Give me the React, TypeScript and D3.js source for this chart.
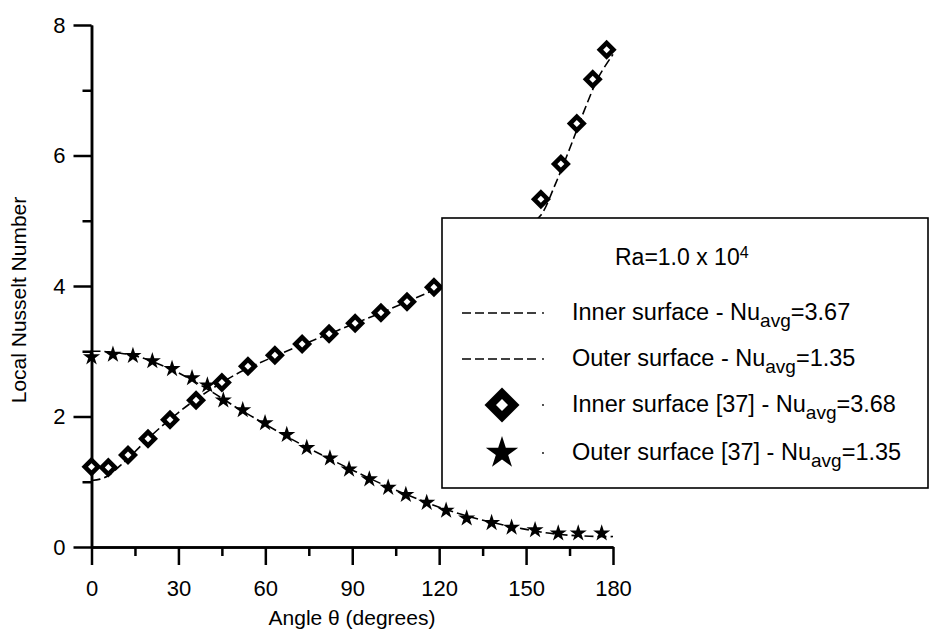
import React, { useEffect, useRef } from "react";
import * as d3 from "d3";

// numerical solution (dashed curves)
const lineTheta = [0, 3, 6, 10, 15, 20, 25, 30, 35, 40, 45, 50, 55, 60, 70, 80, 90, 100, 110, 120, 130, 140, 145, 150, 155, 160, 165, 170, 175, 180];
const innerLine = [1.02, 1.04, 1.1, 1.25, 1.46, 1.68, 1.88, 2.06, 2.23, 2.38, 2.52, 2.65, 2.76, 2.86, 3.05, 3.23, 3.41, 3.59, 3.78, 3.98, 4.21, 4.5, 4.68, 4.9, 5.08, 5.55, 6.1, 6.68, 7.2, 7.55];
const outerLine = [3.0, 3.0, 2.99, 2.97, 2.93, 2.86, 2.77, 2.67, 2.55, 2.42, 2.28, 2.14, 2.01, 1.88, 1.63, 1.4, 1.18, 0.97, 0.78, 0.61, 0.47, 0.36, 0.31, 0.27, 0.23, 0.2, 0.18, 0.17, 0.16, 0.16];

// reference [37] data
const refInnerTheta = [0, 5.8, 12.6, 19.5, 27.1, 36.1, 45.0, 54.0, 63.3, 72.7, 82.0, 91.0, 99.9, 108.9, 118.2, 127.8, 137.9, 147.3, 155.1, 162.0, 167.5, 173.0, 177.8];
const refInnerNu = [1.23, 1.22, 1.41, 1.66, 1.95, 2.25, 2.52, 2.77, 2.94, 3.11, 3.27, 3.43, 3.59, 3.76, 3.98, 4.2, 4.49, 4.85, 5.33, 5.87, 6.49, 7.17, 7.62];
const refOuterTheta = [0, 7.4, 14.3, 21.0, 27.8, 34.7, 40.0, 45.5, 52.2, 59.9, 67.4, 74.3, 82.3, 88.9, 95.9, 102.4, 108.5, 115.7, 122.4, 129.5, 138.1, 145.0, 153.1, 161.1, 168.0, 176.1];
const refOuterNu = [2.91, 2.95, 2.93, 2.85, 2.73, 2.59, 2.48, 2.25, 2.1, 1.9, 1.72, 1.52, 1.36, 1.19, 1.04, 0.91, 0.8, 0.68, 0.56, 0.44, 0.37, 0.3, 0.26, 0.21, 0.21, 0.21];

const xMajor = [0, 30, 60, 90, 120, 150, 180];
const xMinor = [15, 45, 75, 105, 135, 165];
const yMajor = [0, 2, 4, 6, 8];
const yMinor = [1, 3, 5, 7];

const legendRows = [
  { kind: "line", label: "Inner surface - Nu", value: "=3.67" },
  { kind: "line", label: "Outer surface - Nu", value: "=1.35" },
  { kind: "diamond", label: "Inner surface [37] - Nu", value: "=3.68" },
  { kind: "star", label: "Outer surface [37] - Nu", value: "=1.35" },
];

const FONT = "'Liberation Sans', Arial, sans-serif";

function diamond(g, x, y, r, hole) {
  g.append("path")
    .attr("d", `M${x},${y - r}L${x + r},${y}L${x},${y + r}L${x - r},${y}Z`)
    .attr("fill", "#000");
  g.append("path")
    .attr("d", `M${x},${y - hole}L${x + hole},${y}L${x},${y + hole}L${x - hole},${y}Z`)
    .attr("fill", "#fff");
}

export default function App() {
  const ref = useRef(null);

  useEffect(() => {
    const svg = d3.select(ref.current);
    svg.selectAll("*").remove();

    const x = d3.scaleLinear().domain([0, 180]).range([91.5, 613]);
    const y = d3.scaleLinear().domain([0, 8]).range([547, 25]);

    // axes: minor ticks first, then major with the domain line
    const gx = svg.append("g").attr("transform", `translate(0,${y(0)})`);
    gx.append("g").call(d3.axisBottom(x).tickValues(xMinor).tickSize(9).tickSizeOuter(0).tickFormat(() => ""));
    gx.append("g").call(d3.axisBottom(x).tickValues(xMajor).tickSize(18).tickSizeOuter(0));

    const gy = svg.append("g").attr("transform", `translate(${x(0)},0)`);
    gy.append("g").call(d3.axisLeft(y).tickValues(yMinor).tickSize(9).tickSizeOuter(0).tickFormat(() => ""));
    gy.append("g").call(d3.axisLeft(y).tickValues(yMajor).tickSize(18).tickSizeOuter(0).tickPadding(8));

    svg.selectAll(".domain, .tick line").attr("stroke", "#000").attr("stroke-width", 2.5);
    svg.selectAll(".tick text").attr("font-family", FONT).attr("font-size", 22).attr("fill", "#000");
    gx.selectAll(".tick text").attr("dy", "0.71em").attr("y", 33);

    // titles
    svg.append("text")
      .attr("x", 352).attr("y", 625)
      .attr("text-anchor", "middle")
      .attr("font-family", FONT).attr("font-size", 21)
      .text("Angle θ (degrees)");
    svg.append("text")
      .attr("transform", "translate(26,300) rotate(-90)")
      .attr("text-anchor", "middle")
      .attr("font-family", FONT).attr("font-size", 21)
      .text("Local Nusselt Number");

    // dashed curves
    const line = d3.line().curve(d3.curveCatmullRom).x((d) => x(d[0])).y((d) => y(d[1]));
    [innerLine, outerLine].forEach((vals) => {
      svg.append("path")
        .attr("d", line(lineTheta.map((t, i) => [t, vals[i]])))
        .attr("fill", "none")
        .attr("stroke", "#000")
        .attr("stroke-width", 1.6)
        .attr("stroke-dasharray", "9,4");
    });

    // markers
    const mk = svg.append("g");
    refInnerTheta.forEach((t, i) => diamond(mk, x(t), y(refInnerNu[i]), 10, 3.5));
    const star = d3.symbol().type(d3.symbolStar).size(91);
    refOuterTheta.forEach((t, i) => {
      mk.append("path")
        .attr("d", star())
        .attr("transform", `translate(${x(t)},${y(refOuterNu[i])})`)
        .attr("fill", "#000");
    });

    // legend
    const lg = svg.append("g");
    lg.append("rect")
      .attr("x", 442).attr("y", 218).attr("width", 486).attr("height", 270)
      .attr("fill", "#fff").attr("stroke", "#000").attr("stroke-width", 1.6);

    const ra = lg.append("text").attr("x", 615).attr("y", 265)
      .attr("font-family", FONT).attr("font-size", 23);
    ra.append("tspan").text("Ra=1.0 x 10");
    ra.append("tspan").attr("dy", -7).attr("font-size", 16).text("4");

    const rowY = [313, 359, 405, 453];
    legendRows.forEach((r, i) => {
      const cy = rowY[i];
      if (r.kind === "line") {
        lg.append("line")
          .attr("x1", 462).attr("x2", 538).attr("y1", cy).attr("y2", cy)
          .attr("stroke", "#000").attr("stroke-width", 1.6).attr("stroke-dasharray", "9,4");
      } else if (r.kind === "diamond") {
        diamond(lg, 502, cy, 17.5, 6);
      } else {
        lg.append("path")
          .attr("d", d3.symbol().type(d3.symbolStar).size(324)())
          .attr("transform", `translate(502,${cy})`)
          .attr("fill", "#000");
      }
      lg.append("circle").attr("cx", 543).attr("cy", cy).attr("r", 0.9).attr("fill", "#000");
      const t = lg.append("text").attr("x", 572).attr("y", cy + 7)
        .attr("font-family", FONT).attr("font-size", 23.5);
      t.append("tspan").text(r.label);
      t.append("tspan").attr("dy", 7).attr("font-size", 19).text("avg");
      t.append("tspan").attr("dy", -7).text(r.value);
    });
  }, []);

  return (
    <svg
      ref={ref}
      width={931}
      height={635}
      style={{ position: "absolute", left: 0, top: 0, background: "#fff" }}
    />
  );
}
